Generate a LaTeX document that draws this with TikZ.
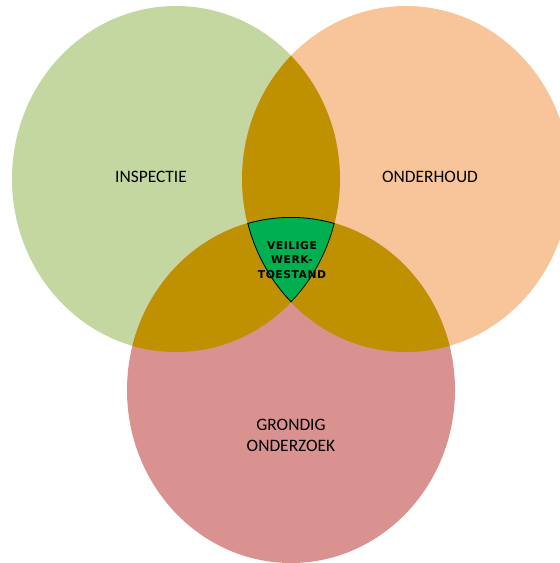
\documentclass[tikz,border=0pt]{standalone}
\usepackage{fontspec}
\setmainfont{Carlito}
\newfontfamily\centrefont{DejaVu Sans}[LetterSpace=5]
\definecolor{inspgreen}{HTML}{C4D7A0}
\definecolor{onderorange}{HTML}{F8C49A}
\definecolor{grondpink}{HTML}{D99290}
\definecolor{overlapgold}{HTML}{BF9000}
\definecolor{safegreen}{HTML}{00B050}
\tikzset{
  label text/.style={font=\fontsize{17.5}{21}\selectfont, align=center, text=black, inner sep=0pt},
  centre text/.style={font=\centrefont\bfseries\fontsize{10.8}{14.5}\selectfont, align=center, text=black, inner sep=0pt}
}
% the three sets
\newcommand{\inspset}{(176,179) ellipse [x radius=164bp, y radius=173bp]}
\newcommand{\onderset}{(406,179) ellipse [x radius=164bp, y radius=173bp]}
\newcommand{\grondset}{(291,390) ellipse [x radius=164bp, y radius=173bp]}
\begin{document}
\begin{tikzpicture}[x=1bp, y=-1bp]
  \useasboundingbox (0,0) rectangle (560,563);
  \clip (0,0) rectangle (560,563);
  % single sets
  \fill[inspgreen] \inspset;
  \fill[onderorange] \onderset;
  \fill[grondpink] \grondset;
  % pairwise overlaps
  \begin{scope}
    \clip \inspset;
    \fill[overlapgold] \onderset;
  \end{scope}
  \begin{scope}
    \clip \inspset;
    \fill[overlapgold] \grondset;
  \end{scope}
  \begin{scope}
    \clip \onderset;
    \fill[overlapgold] \grondset;
  \end{scope}
  % common core with outline
  \begin{scope}
    \clip \inspset;
    \clip \onderset;
    \clip \grondset;
    \fill[safegreen] (0,0) rectangle (560,563);
    \draw[black, line width=1.6bp] \inspset \onderset \grondset;
  \end{scope}
  % labels
  \node[label text] (insp) at (151,177) {INSPECTIE};
  \node[label text] (onder) at (430,177) {ONDERHOUD};
  \node[label text] (grond) at (291,435) {GRONDIG\\ONDERZOEK};
  \node[centre text] (safe) at (292,260) {VEILIGE\\WERK-\\TOESTAND};
\end{tikzpicture}
\end{document}
